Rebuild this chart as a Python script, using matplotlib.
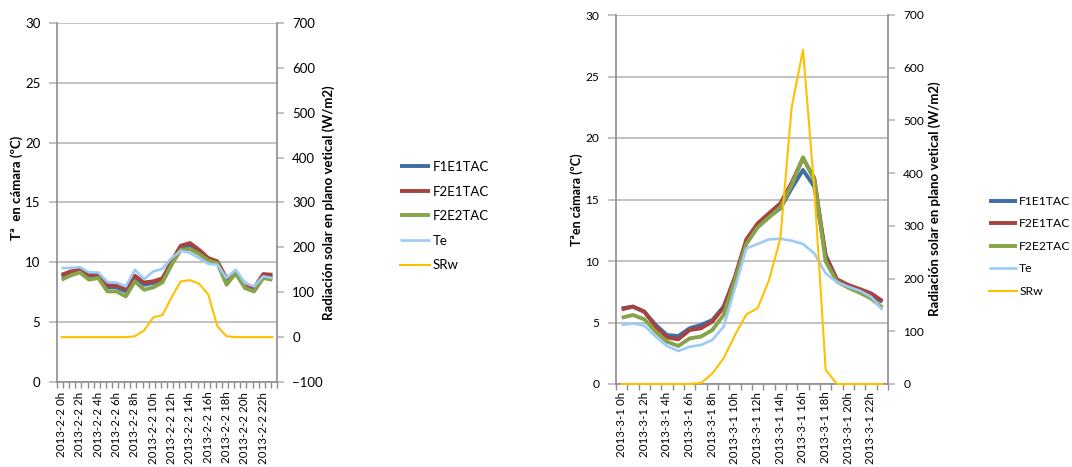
import matplotlib
matplotlib.use("Agg")
import matplotlib.pyplot as plt
import numpy as np

plt.rcParams['font.family'] = ['Lato', 'DejaVu Sans']

# ---- data -------------------------------------------------------------
series_names = ["F1E1TAC", "F2E1TAC", "F2E2TAC", "Te", "SRw"]

feb_labels = ["2013-2-2 0h", "2013-2-2 2h", "2013-2-2 4h", "2013-2-2 6h",
              "2013-2-2 8h", "2013-2-2 10h", "2013-2-2 12h", "2013-2-2 14h",
              "2013-2-2 16h", "2013-2-2 18h", "2013-2-2 20h", "2013-2-2 22h"]
mar_labels = ["2013-3-1 0h", "2013-3-1 2h", "2013-3-1 4h", "2013-3-1 6h",
              "2013-3-1 8h", "2013-3-1 10h", "2013-3-1 12h", "2013-3-1 14h",
              "2013-3-1 16h", "2013-3-1 18h", "2013-3-1 20h", "2013-3-1 22h"]

# 2 Feb 2013, hourly values (ºC and W/m2)
feb_f1e1 = [8.83, 9.10, 9.33, 8.83, 8.88, 7.91, 7.91, 7.57, 8.77, 8.13, 8.27, 8.55,
            9.94, 11.19, 11.41, 10.91, 10.27, 9.99, 8.55, 9.05, 8.07, 7.77, 8.88, 8.83]
feb_f2e1 = [8.96, 9.24, 9.44, 8.96, 9.02, 8.07, 8.07, 7.79, 8.88, 8.32, 8.41, 8.66,
            10.08, 11.39, 11.61, 11.05, 10.36, 10.08, 8.63, 9.16, 8.21, 7.85, 9.02, 8.96]
feb_f2e2 = [8.55, 8.91, 9.16, 8.55, 8.69, 7.57, 7.57, 7.15, 8.41, 7.71, 7.91, 8.32,
            9.80, 11.05, 11.11, 10.69, 10.16, 9.94, 8.13, 9.10, 7.85, 7.57, 8.69, 8.55]
feb_te = [9.52, 9.52, 9.60, 9.16, 9.16, 8.35, 8.30, 7.99, 9.38, 8.60, 9.24, 9.46,
          10.36, 10.97, 10.78, 10.36, 9.88, 9.80, 8.69, 9.38, 8.27, 7.99, 8.83, 8.69]
feb_srw = [0, 0, 0, 0, 0, 0, 0, 0, 2, 15, 44, 49,
           89, 124, 127, 119, 95, 24, 2, 0, 0, 0, 0, 0]

# 1 Mar 2013, hourly values (ºC and W/m2)
mar_f1e1 = [6.15, 6.29, 5.88, 4.80, 3.98, 3.90, 4.53, 4.80, 5.20, 6.29, 8.59, 11.57,
            12.79, 13.60, 14.28, 15.91, 17.40, 16.04, 10.49, 8.46, 8.00, 7.67, 7.27, 6.67]
mar_f2e1 = [6.07, 6.29, 5.88, 4.66, 3.79, 3.63, 4.39, 4.53, 5.07, 6.23, 8.73, 11.76,
            13.06, 13.88, 14.69, 16.37, 18.35, 16.72, 10.35, 8.51, 8.05, 7.72, 7.37, 6.75]
mar_f2e2 = [5.39, 5.61, 5.26, 4.25, 3.44, 3.09, 3.71, 3.85, 4.39, 5.61, 8.46, 11.38,
            12.74, 13.55, 14.36, 16.18, 18.43, 16.59, 9.95, 8.32, 7.83, 7.42, 6.96, 6.20]
mar_te = [4.80, 4.93, 4.74, 3.85, 3.09, 2.68, 3.03, 3.17, 3.58, 4.66, 7.80, 11.03,
          11.38, 11.76, 11.81, 11.65, 11.38, 10.62, 9.00, 8.27, 7.91, 7.59, 7.10, 6.02]
mar_srw = [0, 0, 0, 0, 0, 0, 0, 2, 20, 49, 93, 132,
           144, 197, 276, 525, 634, 370, 27, 0, 0, 0, 0, 0]

# ---- styling ----------------------------------------------------------
COLORS = ["#3F6DA6", "#A8423F", "#86A44A", "#9CCBF8", "#FFC000"]
WIDTHS = [2.8, 2.8, 2.8, 1.9, 1.5]
GRID = "#BDBDBD"
SPINE = "#8C8C8C"

W, H = 1072, 467
fig = plt.figure(figsize=(W / 100, H / 100), dpi=100)


def px_rect(x0, y0, x1, y1):
    return [x0 / W, 1 - y1 / H, (x1 - x0) / W, (y1 - y0) / H]


def draw_panel(rect, temps, srw, xlabels, rlim, rstep, tick_fs, xlab_fs,
               minor_step, xpad):
    ax = fig.add_axes(rect)
    x = np.arange(len(srw))
    handles = []
    for vals, c, lw in zip(temps, COLORS[:4], WIDTHS[:4]):
        ln, = ax.plot(x, vals, color=c, lw=lw, solid_joinstyle="round",
                      solid_capstyle="butt")
        handles.append(ln)
    ax.set_xlim(-0.5, len(x) - 0.5)
    ax.set_ylim(0, 30)
    ax.set_yticks(np.arange(0, 31, 5))
    ax.grid(axis="y", color=GRID, lw=1.3)
    ax.set_axisbelow(True)
    ax.set_xticks(x[::2])
    ax.set_xticklabels(xlabels, rotation=90, fontsize=xlab_fs)
    ax.tick_params(axis="x", which="major", length=0, pad=xpad)
    ax.set_xticks(np.arange(-0.5, len(x) - 0.5 + 1e-6, minor_step), minor=True)
    ax.tick_params(axis="x", which="minor", length=4, color=SPINE, width=1)
    ax.tick_params(axis="y", length=6, color=GRID, width=1.3, pad=6,
                   labelsize=tick_fs)
    for s in ("top", "right"):
        ax.spines[s].set_visible(False)
    for s in ("left", "bottom"):
        ax.spines[s].set_color(SPINE)
        ax.spines[s].set_linewidth(1.2)

    ax2 = ax.twinx()
    ln, = ax2.plot(x, srw, color=COLORS[4], lw=WIDTHS[4], solid_joinstyle="round",
                   clip_on=False, zorder=5)
    handles.append(ln)
    ax2.set_ylim(*rlim)
    ax2.set_yticks(np.arange(rlim[0], rlim[1] + 1, rstep))
    ax2.tick_params(axis="y", length=5, color=GRID, width=1.3, pad=6,
                    labelsize=tick_fs)
    for s in ("top", "left", "bottom"):
        ax2.spines[s].set_visible(False)
    ax2.spines["right"].set_color(SPINE)
    ax2.spines["right"].set_linewidth(1.2)
    return handles


# left panel: 2 Feb
h_feb = draw_panel(px_rect(57, 23, 277, 382), [feb_f1e1, feb_f2e1, feb_f2e2, feb_te],
                   feb_srw, feb_labels, (-100, 700), 100, 9.5, 8.3, 2 / 3, 7)
# right panel: 1 Mar
h_mar = draw_panel(px_rect(616, 15, 888, 384), [mar_f1e1, mar_f2e1, mar_f2e2, mar_te],
                   mar_srw, mar_labels, (0, 700), 100, 8.6, 8.3, 1, 5.5)

# axis titles
fig.text(17 / W, 1 - 188 / H, "Tª  en cámara (ºC)", rotation=90, ha="center",
         va="center", fontsize=9.5, fontweight="bold")
fig.text(329 / W, 1 - 203 / H, "Radiación solar en plano vetical (W/m2)",
         rotation=90, ha="center", va="center", fontsize=9.5, fontweight="bold")
fig.text(577 / W, 1 - 200 / H, "Tªen cámara (ºC)", rotation=90, ha="center",
         va="center", fontsize=9.0, fontweight="bold")
fig.text(935 / W, 1 - 199 / H, "Radiación solar en plano vetical (W/m2)",
         rotation=90, ha="center", va="center", fontsize=9.5, fontweight="bold")

# legends
leg_kw = dict(loc="upper left", frameon=False, borderpad=0, borderaxespad=0,
              handlelength=2.3, handletextpad=0.2, labelspacing=0.95)
fig.legend(h_feb, series_names, bbox_to_anchor=(400 / W, 1 - 161 / H),
           fontsize=9.5, **leg_kw)
fig.legend(h_mar, series_names, bbox_to_anchor=(989 / W, 1 - 196 / H),
           fontsize=8.7, **leg_kw)

fig.savefig("out.png", dpi=100)
